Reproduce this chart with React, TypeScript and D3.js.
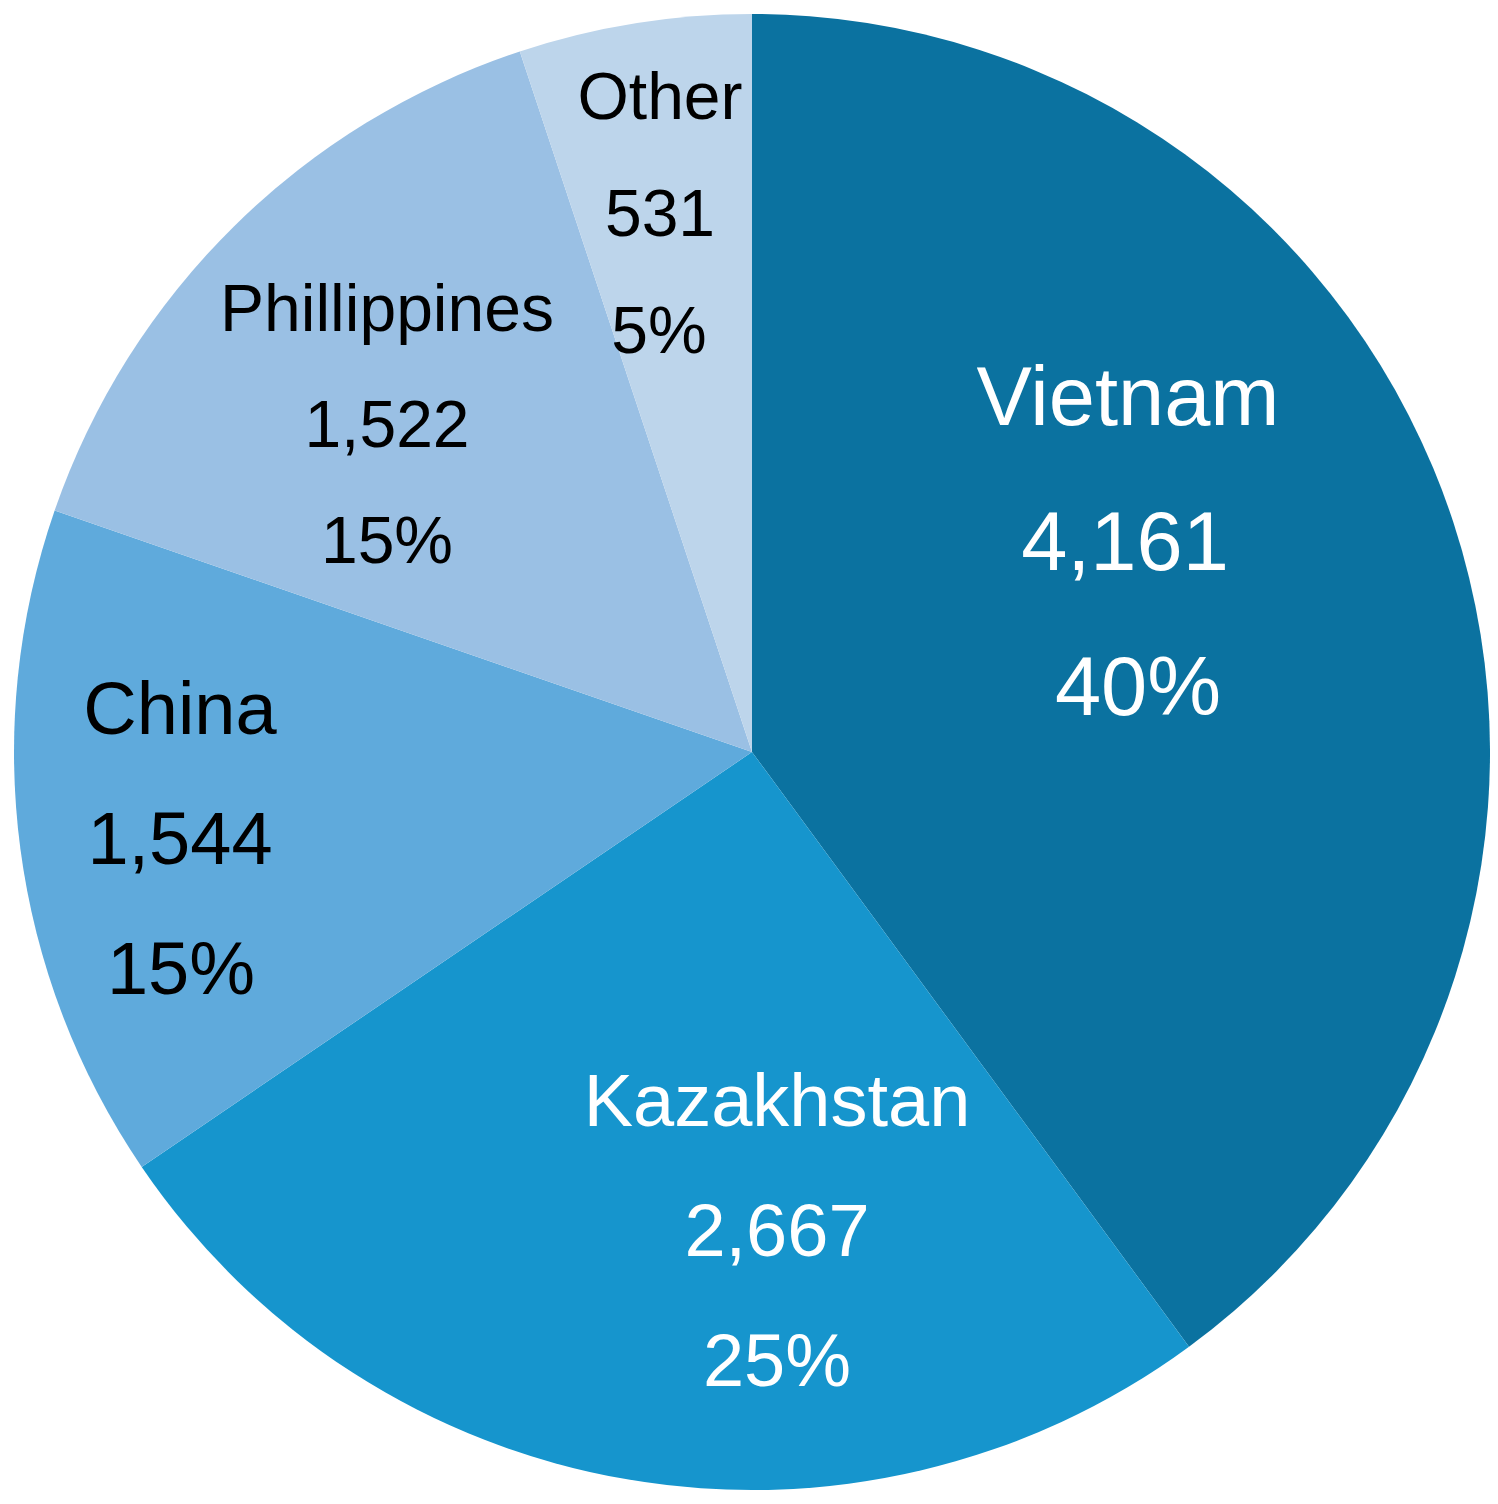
import React from "react";
import * as d3 from "d3";

const categories = ["Vietnam", "Kazakhstan", "China", "Phillippines", "Other"];
const values = [4161, 2667, 1544, 1522, 531];
const percentLabels = ["40%", "25%", "15%", "15%", "5%"];
const colors = ["#0B72A0", "#1695CD", "#5FAADC", "#9AC0E4", "#BDD5EB"];
const textColors = ["#FFFFFF", "#FFFFFF", "#000000", "#000000", "#000000"];

// label layout: centre x, first baseline y, font size, line spacing, per-line x nudge
const labelLayout = [
  { x: 1128, y: 425, size: 83, gap: 145, dx: [0, -3, 10] },
  { x: 777, y: 1126, size: 74, gap: 130, dx: [0, 0, 0] },
  { x: 180, y: 734, size: 74, gap: 130, dx: [0, 0, 1] },
  { x: 387, y: 331, size: 66, gap: 116, dx: [0, 0, 0] },
  { x: 660, y: 119, size: 66, gap: 117, dx: [0, 0, -1] },
];

const W = 1498;
const H = 1504;
const CX = 752;
const CY = 752;
const R = 738;

export default function App() {
  const pie = d3.pie<number>().sort(null).value((d) => d);
  const arcs = pie(values);
  const arcGen = d3.arc<d3.PieArcDatum<number>>().innerRadius(0).outerRadius(R);
  const fmt = d3.format(",");

  return (
    <svg
      width={W}
      height={H}
      style={{ position: "absolute", left: 0, top: 0, background: "#fff" }}
      fontFamily="'Liberation Sans', Arial, sans-serif"
    >
      <g transform={`translate(${CX},${CY})`}>
        {arcs.map((a, i) => (
          <path key={categories[i]} d={arcGen(a) || ""} fill={colors[i]} />
        ))}
      </g>
      {categories.map((c, i) => {
        const L = labelLayout[i];
        const lines = [c, fmt(values[i]), percentLabels[i]];
        return (
          <g key={c} fill={textColors[i]} fontSize={L.size} textAnchor="middle">
            {lines.map((t, j) => (
              <text key={j} x={L.x + L.dx[j]} y={L.y + j * L.gap}>
                {t}
              </text>
            ))}
          </g>
        );
      })}
    </svg>
  );
}
